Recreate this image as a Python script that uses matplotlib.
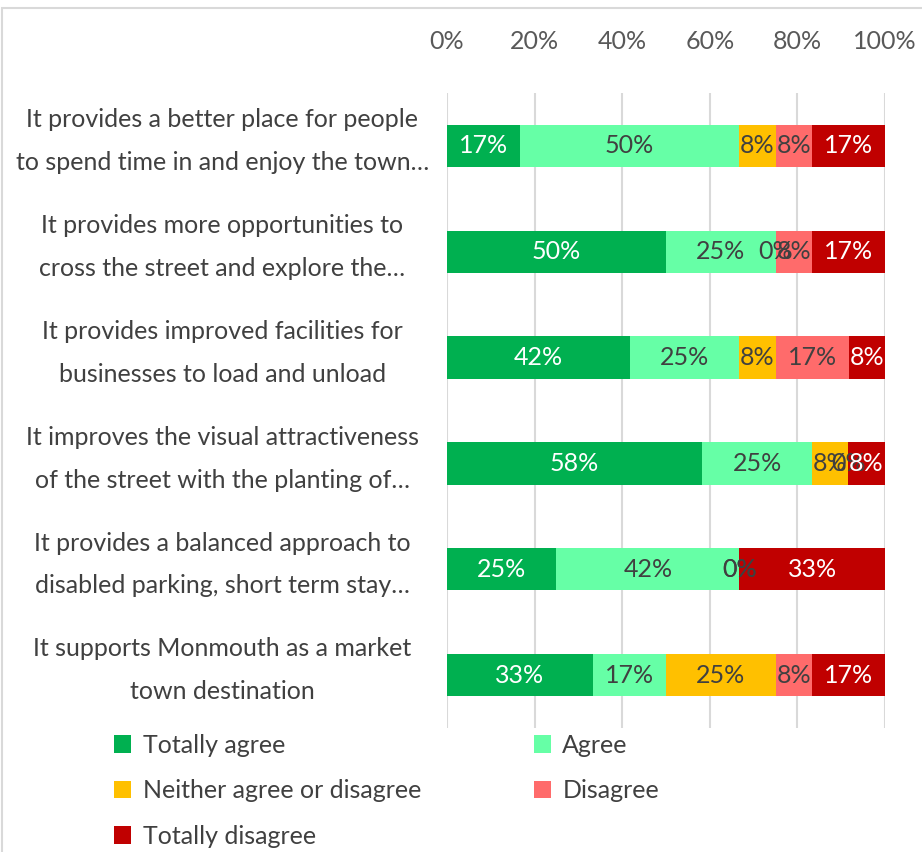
import matplotlib.pyplot as plt
from matplotlib.patches import Patch, Rectangle

plt.rcParams['font.family'] = ['Lato', 'DejaVu Sans']

# statements, top to bottom
statements = [
    "It provides a better place for people\nto spend time in and enjoy the town…",
    "It provides more opportunities to\ncross the street and explore the…",
    "It provides improved facilities for\nbusinesses to load and unload",
    "It improves the visual attractiveness\nof the street with the planting of…",
    "It provides a balanced approach to\ndisabled parking, short term stay…",
    "It supports Monmouth as a market\ntown destination",
]

# percentages per response (12 respondents)
totally_agree = [16.7, 50.0, 41.7, 58.3, 25.0, 33.3]
agree = [50.0, 25.0, 25.0, 25.0, 41.7, 16.7]
neither = [8.3, 0.0, 8.3, 8.3, 0.0, 25.0]
disagree = [8.3, 8.3, 16.7, 0.0, 0.0, 8.3]
totally_disagree = [16.7, 16.7, 8.3, 8.3, 33.3, 16.7]

series_names = ["Totally agree", "Agree", "Neither agree or disagree",
                "Disagree", "Totally disagree"]
series_vals = [totally_agree, agree, neither, disagree, totally_disagree]
colors = ["#00B050", "#66FFA6", "#FFC000", "#FF6B6B", "#C00000"]
label_colors = ["white", "#404040", "#404040", "#404040", "white"]

xticks = [0, 20, 40, 60, 80, 100]

fig = plt.figure(figsize=(9.22, 8.52), dpi=100)
ax = fig.add_axes([0.4848, 0.1455, 0.4751, 0.7453])

# light frame around the chart area
fig.patches.append(Rectangle((0.002, -0.1), 1.2, 1.0906, transform=fig.transFigure,
                             fill=False, edgecolor="#D9D9D9", linewidth=1.5))

ypos = list(range(len(statements)))
left = [0.0] * len(statements)
for name, vals, col, lcol in zip(series_names, series_vals, colors, label_colors):
    bars = ax.barh(ypos, vals, left=left, height=0.4, color=col, label=name, zorder=2)
    for b, v in zip(bars, vals):
        ax.text(b.get_x() + b.get_width() / 2, b.get_y() + b.get_height() / 2,
                f"{v:.0f}%", ha="center", va="center", color=lcol, fontsize=18, zorder=3)
    left = [l + v for l, v in zip(left, vals)]

ax.set_xlim(0, 100)
ax.set_ylim(5.5, -0.5)
ax.set_xticks(xticks)
ax.set_xticklabels([f"{t}%" for t in xticks])
ax.xaxis.tick_top()
ax.tick_params(axis='x', length=0, pad=29, labelsize=18, labelcolor="#595959")

# category labels, wrapped and centred like the original
ax.set_yticks(ypos)
ax.set_yticklabels([])
ax.tick_params(axis='y', length=0)
for y, txt in zip(ypos, statements):
    ax.text(-0.513, y - 0.045, txt, transform=ax.get_yaxis_transform(),
            ha="center", va="center", multialignment="center", linespacing=2.05,
            fontsize=18, color="#404040", clip_on=False)

ax.grid(axis='x', color="#D9D9D9", linewidth=1.5, zorder=0)
for s in ax.spines.values():
    s.set_visible(False)

# legend filled column-wise, so reorder to read row-wise
order = [0, 2, 4, 1, 3]
handles = [Patch(facecolor=colors[i], label=series_names[i]) for i in order]
fig.legend(handles=handles, ncol=2, loc="upper left", bbox_to_anchor=(0.1236, 0.139),
           frameon=False, fontsize=18, labelcolor="#404040", handlelength=0.7,
           handleheight=0.7, handletextpad=0.45, columnspacing=4.5, labelspacing=0.9,
           borderaxespad=0, borderpad=0)

plt.savefig("out.png", dpi=100)
